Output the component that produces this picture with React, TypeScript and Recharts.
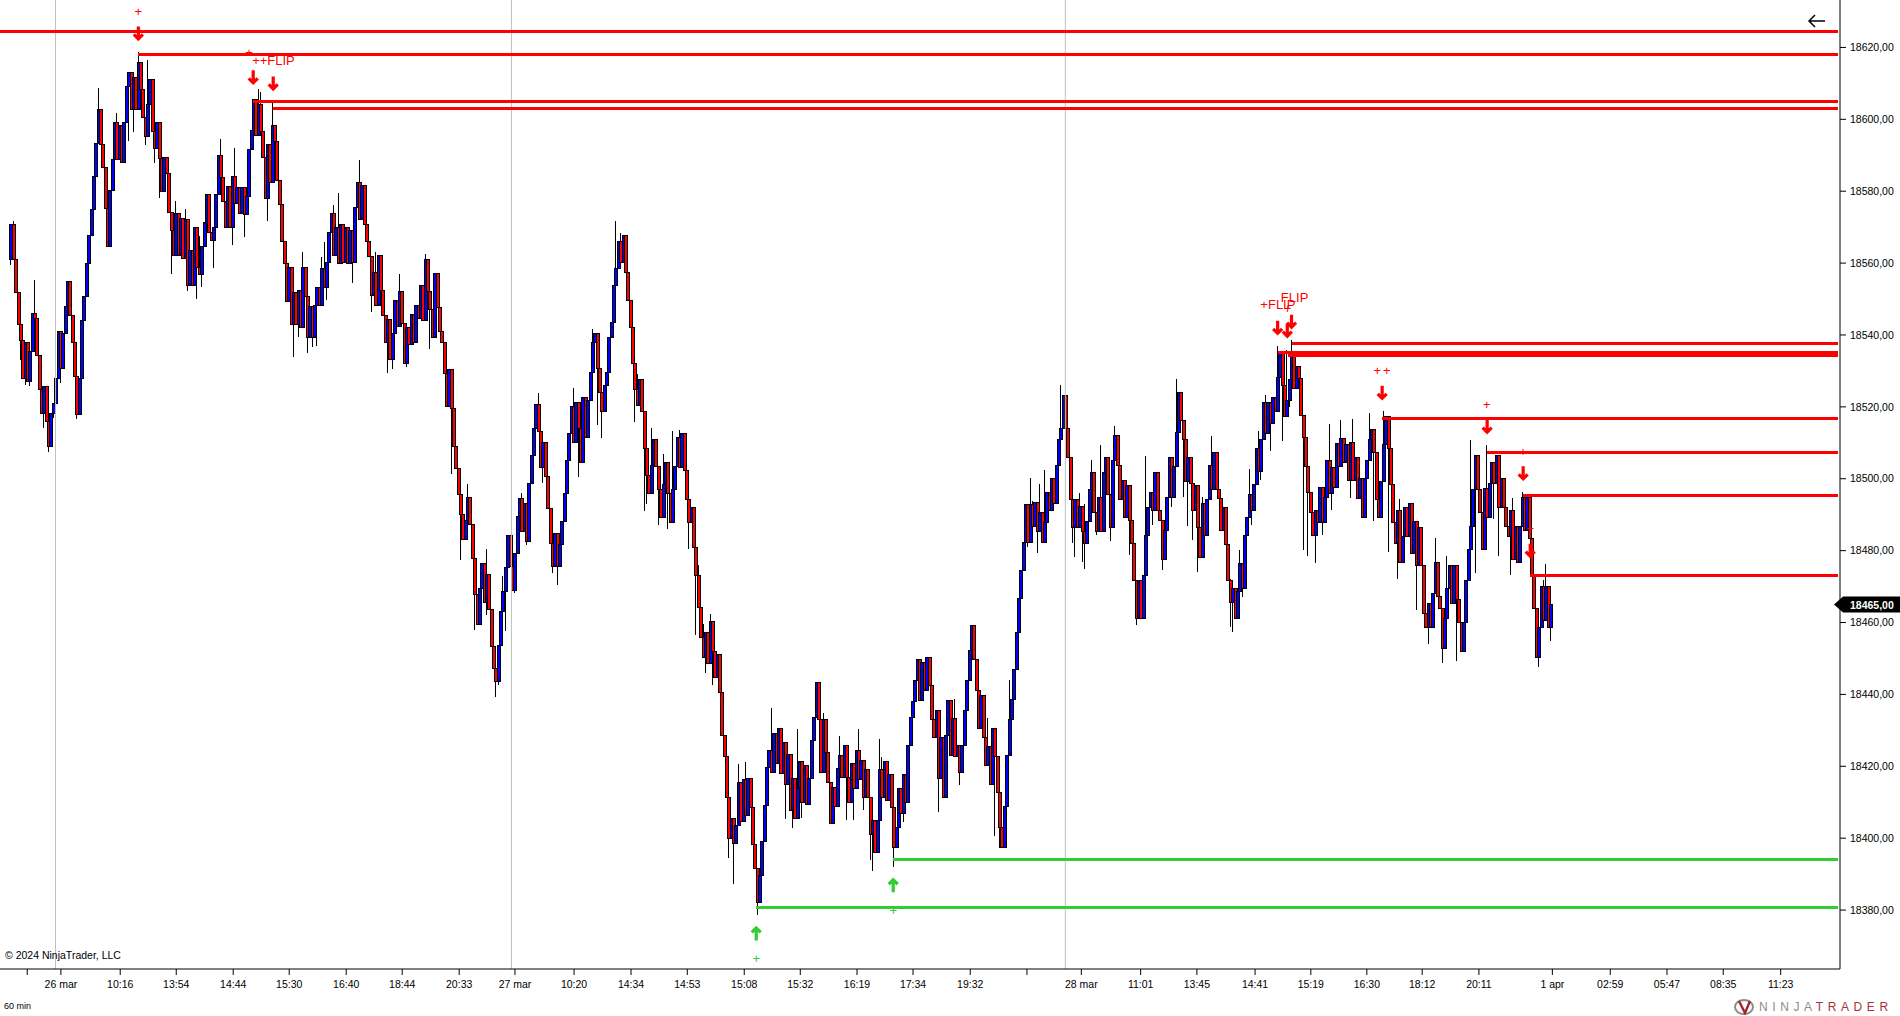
import React from "react";
import {
  Bar,
  ComposedChart,
  ReferenceDot,
  ReferenceLine,
  Scatter,
  XAxis,
  YAxis,
} from "recharts";

const PRICE_BASE = 18000;
const FONT = "'Liberation Sans', Arial, sans-serif";

// closes of every bar, minus PRICE_BASE, ten bars a row. A bar opens where the last one closed.
const closes = [
  570.6, 560.9, 551.7, 542.8, 538.6, 528, 537.8, 527.1, 535.4, 546.1,
  544.6, 534.4, 524.8, 518.2, 525.6, 516, 508.9, 518.2, 520.9, 528,
  540.9, 530.8, 540.4, 547.9, 555, 545.3, 538, 528.4, 517.8, 528,
  544, 550.6, 560, 567.8, 574.8, 584, 593.4, 602.6, 592.9, 586.5,
  575.3, 564.5, 580.3, 588.7, 599, 588.7, 598.4, 588.1, 599, 609,
  612.9, 602.6, 611.5, 602.6, 615.7, 608.2, 600.4, 595.1, 604, 611.2,
  596.5, 592, 599, 589.2, 579.8, 589.5, 585, 574.2, 569.2, 562,
  573.9, 562.2, 572.5, 561.4, 572, 553.9, 563.6, 553.9, 569.8, 558.9,
  556.7, 564.5, 571.2, 579.2, 568.6, 566.4, 569.8, 579, 590, 583.7,
  577, 569.8, 581.2, 570, 584, 576.7, 580.9, 573.9, 580.9, 573.4,
  578.4, 591.5, 597, 605.4, 595.6, 604, 596.5, 589.5, 578.1, 592.9,
  582.3, 598.4, 593.7, 583.1, 576.2, 566.1, 560, 549.2, 558.9, 542.8,
  551.7, 542.8, 552.5, 542.2, 558.9, 550.6, 539.4, 547.8, 539.4, 548.3,
  553.3, 548.3, 558.6, 553.3, 560.3, 568.4, 573.9, 562.2, 570, 560,
  570.6, 560.3, 569.8, 560, 569.2, 560.3, 575.6, 582.3, 572, 581.7,
  570.6, 565.9, 561.7, 551.1, 557.5, 548.3, 562.2, 552.5, 545.3, 538,
  544.3, 533.1, 540.4, 549.7, 542.4, 552, 543.3, 532.1, 542.2, 537.3,
  545.6, 537.8, 548.3, 544.6, 553.9, 544, 560.9, 552, 547.1, 539.3,
  557.2, 547.6, 540.9, 538, 529.4, 520.1, 530.3, 519.6, 508.9, 502.9,
  495.6, 490, 483, 488.5, 494.9, 487.2, 477.8, 467.7, 459.4, 469.4,
  476.5, 465.7, 473.3, 463.5, 453.4, 447.1, 443.5, 453.6, 463, 468.7,
  475.2, 484.3, 475.5, 469, 479.3, 489.5, 494.6, 485.3, 493, 482.5,
  498.8, 506.6, 514.1, 520.7, 513.1, 503.2, 510.2, 500.6, 491.8, 481.9,
  475.5, 484.8, 475.5, 481.7, 488.2, 496, 505.2, 512.7, 520, 510,
  521.1, 514.1, 504.4, 522.7, 511.6, 521.9, 529.7, 537.8, 540.5, 530.8,
  523.9, 518.6, 526, 529.7, 539.4, 543.6, 553.9, 558.6, 565.9, 560.3,
  567.8, 557.5, 549.7, 542.2, 532.2, 524.7, 520.5, 527.5, 518.6, 508.5,
  501, 496, 503.8, 510.8, 503.3, 496.9, 489.3, 498.3, 504.4, 496,
  487.7, 496.9, 503.3, 511.6, 503, 512.7, 502.4, 494.1, 487.7, 491.9,
  481, 473.2, 464.3, 455.7, 450.4, 457.1, 448.7, 460.4, 451.8, 444.8,
  451, 440.4, 428.7, 422.6, 411.4, 400, 405.6, 398.6, 403.4, 415.6,
  404.5, 416.2, 406.4, 416.7, 408.4, 398.1, 391.7, 382, 389.7, 399.2,
  409.2, 419.8, 424.5, 418.4, 429.2, 420.9, 430.6, 418.1, 426.5, 414.8,
  423.4, 407.8, 416.7, 405.6, 413.9, 421.2, 409.8, 420.3, 409.5, 416.7,
  427.3, 433.7, 443.2, 432.9, 418.4, 432.9, 423.7, 415.6, 404.2, 414.2,
  408.7, 419.5, 423.1, 417, 425.9, 417, 410, 420.9, 413.9, 424.5,
  416.2, 421.7, 411.4, 419, 411.2, 400.9, 405, 396.1, 405, 419,
  411.4, 421.2, 410.6, 417.6, 408.4, 397.5, 403.1, 413.9, 407, 417.6,
  410, 425.9, 433.7, 437.9, 444, 449.6, 438.4, 449, 441.2, 450.4,
  442.6, 432.9, 428.1, 435.6, 416.7, 427.9, 411.4, 428.7, 438.4, 423.1,
  433.4, 422.6, 425.9, 418.4, 425.9, 435.6, 444, 452.3, 459.3, 449.6,
  441.2, 430.6, 439.8, 428.1, 420.3, 425.4, 414.8, 430.6, 422.6, 412.6,
  403.1, 397.5, 408.7, 423.1, 432.9, 438.7, 447, 457.1, 466.8, 474.6,
  482.4, 492.7, 482.4, 492.7, 486.6, 493.5, 485.2, 490.5, 482.4, 487.7,
  496.3, 491.3, 500.2, 493.2, 503.8, 511, 514.1, 523.3, 514.1, 505.8,
  494.1, 486.3, 494.1, 486.3, 492.4, 485.2, 482.1, 488, 496.9, 501.6,
  490.5, 485.2, 494.9, 485.2, 501.6, 506, 495.5, 486.3, 505.2, 511.9,
  503.8, 494.1, 499.6, 489.3, 498, 488.5, 482.1, 471.8, 461.2, 471.8,
  461.2, 473.2, 484.1, 491.9, 496.3, 491.3, 501.6, 491.3, 488.5, 477.4,
  485.7, 494.9, 505.8, 494.9, 503.3, 513, 523.9, 516.3, 510.8, 499.1,
  506, 498.8, 491.3, 498, 486.3, 478.2, 493.2, 484.3, 494.1, 503.8,
  496.9, 507.2, 496.9, 494.6, 485.7, 492.1, 481.6, 471.8, 465.7, 469.6,
  461.2, 468.5, 476.3, 469.6, 484.3, 489.1, 495.7, 491.3, 498.3, 508.3,
  501.9, 510.8, 521.3, 512.7, 521.3, 515.5, 522.5, 518.6, 528.3, 535,
  526, 517.2, 521.9, 527.5, 534.4, 525.2, 531.1, 528, 517.7, 511.6,
  503.3, 496.3, 490.7, 484.3, 491.3, 487.7, 497.7, 487.7, 494.9, 505.2,
  496, 503, 497.7, 509.9, 503.3, 511.3, 504.4, 509.4, 499.6, 510.2,
  499.6, 505.8, 494.6, 500.2, 489.1, 500.2, 505.2, 511, 513.6, 507.4,
  494.1, 489.3, 499.1, 509.4, 517.2, 508.5, 498.3, 487.7, 482.1, 491.3,
  476.6, 483.8, 492.1, 483.8, 493.2, 479.3, 488, 476, 486.3, 476,
  462.6, 458.5, 465.4, 458.7, 468.2, 476.6, 467.1, 464, 452.9, 461.2,
  469.6, 476, 465.4, 476, 466.3, 460.1, 451.8, 460.1, 471.8, 480.2,
  486.6, 496.9, 506.6, 496.9, 490.7, 480.2, 497.4, 489.3, 498.8, 504.4,
  498.8, 506.6, 491.9, 500.2, 491.9, 486.6, 483.8, 491.3, 477.4, 486.6,
  476.8, 486.6, 494.9, 485.7, 494.9, 483.5, 472.7, 464, 450.4, 458.7,
  469.9, 460.7, 469.9, 458.7, 465,
];

// [bar, price minus PRICE_BASE] for the wicks that stick out of a body
const upperWicks = [
  [1, 571.7], [4, 549.4], [10, 555.3], [37, 608.7], [45, 601.8], [54, 618.7], [58, 616.5], [64, 595.9],
  [70, 577.3], [74, 575], [80, 567.5], [82, 570.9], [89, 594.5], [95, 592], [105, 608.4], [106, 607.6],
  [111, 604.5], [117, 562], [124, 563.1], [132, 561.7], [133, 565.9], [137, 576.2], [139, 579.5], [148, 588.7],
  [149, 581.4], [151, 572.8], [155, 563.1], [165, 557], [176, 562.5], [182, 549.2], [188, 513.6], [194, 498.6],
  [202, 480.4], [209, 473], [217, 495.9], [224, 523.8], [239, 525.2], [247, 541.7], [257, 571.7], [259, 568.4],
  [266, 529.1], [270, 506.6], [272, 514.1], [277, 506.9], [281, 513.3], [284, 513.6], [292, 476], [294, 459.6],
  [297, 462.4], [299, 457.9], [309, 420.6], [312, 421.2], [323, 436.2], [334, 430.4], [345, 434.8], [352, 428.4],
  [360, 430.4], [369, 427.6], [370, 422.6], [373, 419], [401, 438.7], [415, 433.4], [419, 416.7], [424, 444],
  [433, 500.2], [434, 493.8], [437, 498.5], [439, 502.4], [446, 526], [451, 500.5], [454, 496], [456, 493],
  [459, 505.2], [463, 509.4], [469, 514.7], [482, 506.3], [486, 501.6], [495, 527.7], [498, 510], [503, 497.1],
  [506, 494.9], [510, 511.9], [512, 505.8], [518, 472.1], [522, 480.2], [526, 502.7], [530, 513.3], [533, 523.3],
  [538, 537], [542, 535.8], [544, 538.6], [560, 515.2], [565, 516.3], [570, 516.6], [577, 518.3], [583, 518.8],
  [590, 494.4], [599, 483.5], [605, 483.5], [610, 478.5], [620, 510.8], [627, 509.4], [631, 502.7], [633, 494.1],
  [638, 494.6], [642, 496.3], [651, 471.8], [652, 476.3],
];

const lowerWicks = [
  [0, 559.5], [4, 533.1], [6, 526.1], [8, 525.8], [14, 514.1], [16, 507.5], [18, 517], [21, 526.7],
  [28, 516.6], [50, 594], [52, 596.5], [57, 592.9], [61, 587.8], [63, 578.1], [68, 557], [75, 552.2],
  [79, 550], [81, 553.3], [86, 558.6], [94, 565], [99, 567.3], [109, 571.7], [120, 533.9], [122, 539.4],
  [126, 535.1], [128, 536.7], [130, 537], [134, 549.7], [145, 554.5], [153, 546.3], [160, 529.4], [162, 530.4],
  [168, 531], [178, 536], [187, 501.2], [191, 477.3], [197, 458], [202, 462.2], [206, 439.4], [207, 442.7],
  [210, 457.6], [214, 468.2], [219, 481.7], [226, 498.8], [230, 473.8], [232, 470.4], [241, 500.5], [249, 515],
  [251, 511.3], [265, 515.8], [269, 491], [270, 493], [275, 487.1], [279, 486], [282, 500.2], [288, 480.4],
  [291, 456.5], [295, 446], [298, 442.6], [305, 394.5], [307, 387.3], [317, 378.6], [329, 405.3], [332, 402.8],
  [336, 405.6], [355, 405], [358, 405], [362, 407.8], [365, 393.9], [366, 391], [375, 392], [379, 404.5],
  [394, 407.3], [403, 414.8], [418, 400.6], [420, 397.3], [425, 427.6], [432, 481], [436, 479.3], [440, 489.1],
  [451, 482.1], [452, 478.2], [455, 476.8], [456, 474.9], [461, 484.3], [467, 482.7], [475, 478.8], [478, 459.3],
  [485, 487.1], [489, 474.6], [493, 492.1], [498, 494.9], [500, 486.8], [502, 483], [504, 474], [518, 458.7],
  [519, 457.3], [521, 467.6], [523, 467.1], [527, 487.1], [531, 499.6], [535, 507.7], [540, 510.5], [543, 520],
  [549, 480.2], [551, 478.5], [554, 476.6], [557, 484.3], [561, 491.3], [569, 494.6], [579, 488.2], [585, 479.6],
  [589, 472.1], [597, 463.5], [602, 454], [608, 448.7], [614, 449.3], [622, 473.8], [626, 493.5], [630, 488.8],
  [632, 478.5], [637, 473.2], [649, 447.6], [654, 454.8],
];

const priceTicks = [18380, 18400, 18420, 18440, 18460, 18480, 18500, 18520, 18540, 18560, 18580, 18600, 18620];

const timeTickBars = [
  6.9, 21.2, 46.4, 70.2, 94.4, 118.2, 142.4, 166.2, 190.4, 214.1, 239.2, 263.4, 287.3, 311.5, 335.3, 359.4,
  383.2, 407.5, 431.6, 454.7, 479.9, 503.8, 528.5, 552.2, 576, 599.5, 623.6, 654.8, 679.4, 703.5, 727.4, 751.8,
];
const timeTickLabels = [
  "", "26 mar", "10:16", "13:54", "14:44", "15:30", "16:40", "18:44", "20:33", "27 mar", "10:20", "14:34", "14:53", "15:08", "15:32", "16:19",
  "17:34", "19:32", "", "28 mar", "11:01", "13:45", "14:41", "15:19", "16:30", "18:12", "20:11", "1 apr", "02:59", "05:47", "08:35", "11:23",
];

const sessionBars = [18.9, 212.6, 447.9];

// [first bar, price]
const resistanceLevels = [
  [-4.67, 18624.5], [54, 18618.1], [102.8, 18605], [111.3, 18603.1], [544.2, 18537.7], [538.2, 18535.1],
  [542.5, 18534.4], [582.5, 18516.9], [627.1, 18507.2], [642.4, 18495.4], [645.4, 18473.1],
];
const supportLevels = [[316.6, 18380.75], [374.8, 18394.1]];
const LEVEL_END_BAR = 776.1;

const downArrows = [
  { bar: 54.1, price: 18623.9 }, { bar: 102.9, price: 18611.7 }, { bar: 111.4, price: 18610 },
  { bar: 538.1, price: 18542 }, { bar: 544, price: 18543.7 }, { bar: 542.2, price: 18541.2 },
  { bar: 582.5, price: 18523.9 }, { bar: 627.1, price: 18514.5 }, { bar: 642.4, price: 18501.5 }, { bar: 645.4, price: 18480 },
];
const upArrows = [{ bar: 316.6, price: 18373.5 }, { bar: 374.8, price: 18386.9 }];

const redNotes = [
  { bar: 54.1, price: 18629.9, text: "+" }, { bar: 101.1, price: 18618.5, text: "+" }, { bar: 111.5, price: 18616.3, text: "++FLIP" },
  { bar: 545.3, price: 18550.5, text: "FLIP" }, { bar: 538.2, price: 18548.6, text: "+FLIP" }, { bar: 542.3, price: 18547.5, text: "+" },
  { bar: 580.4, price: 18530, text: "+" }, { bar: 584.5, price: 18530, text: "+" }, { bar: 627, price: 18520.6, text: "+" },
  { bar: 642.3, price: 18507.5, text: "+" }, { bar: 645.4, price: 18486.1, text: "+" },
];
const greenNotes = [{ bar: 316.6, price: 18366.4, text: "+" }, { bar: 374.8, price: 18379.8, text: "+" }];

const LAST_PRICE = 18465;

const highByBar = new Map(upperWicks.map(([bar, price]) => [bar, price]));
const lowByBar = new Map(lowerWicks.map(([bar, price]) => [bar, price]));

const candles = closes.map((close, bar) => {
  const open = bar === 0 ? 560.9 : closes[bar - 1];
  const high = Math.max(open, close, highByBar.get(bar) ?? 0);
  const low = Math.min(open, close, lowByBar.get(bar) ?? 99999);
  return {
    bar,
    open: PRICE_BASE + open,
    close: PRICE_BASE + close,
    high: PRICE_BASE + high,
    low: PRICE_BASE + low,
  };
});

function Candle(props: any) {
  const { x, y, width, height, payload } = props;
  const { open, close, high, low } = payload;
  const perPoint = height / (high - low);
  const top = y + (high - Math.max(open, close)) * perPoint;
  const bodyHeight = Math.max(Math.abs(open - close) * perPoint, 1);
  const left = Math.round(x + width / 2 - 1.5) + 0.5;
  return (
    <g shapeRendering="crispEdges">
      <line x1={left + 1} x2={left + 1} y1={y} y2={y + height} stroke="#000" />
      <rect
        x={left}
        y={top}
        width={3}
        height={bodyHeight}
        fill={close >= open ? "#0000ff" : "#ff0000"}
        stroke="#000"
      />
    </g>
  );
}

function DownArrow({ cx, cy }: any) {
  return (
    <path
      d={`M${cx} ${cy - 7}V${cy + 5}M${cx - 4.5} ${cy + 1}L${cx} ${cy + 5.5}L${cx + 4.5} ${cy + 1}`}
      fill="none"
      stroke="#ff0000"
      strokeWidth={3.2}
    />
  );
}

function UpArrow({ cx, cy }: any) {
  return (
    <path
      d={`M${cx} ${cy + 7}V${cy - 5}M${cx - 4.5} ${cy - 1}L${cx} ${cy - 5.5}L${cx + 4.5} ${cy - 1}`}
      fill="none"
      stroke="#32cd32"
      strokeWidth={3.2}
    />
  );
}

function Note({ cx, cy, payload, fill }: any) {
  return (
    <text x={cx} y={cy + 4.5} textAnchor="middle" fontSize={13} fontFamily={FONT} fill={fill}>
      {payload.text}
    </text>
  );
}

function PriceTag({ cx, cy }: any) {
  return (
    <g>
      <path d={`M${cx - 6} ${cy}L${cx + 3} ${cy - 8}H1900V${cy + 8}H${cx + 3}Z`} fill="#000" />
      <text x={cx + 10} y={cy + 4} fontSize={10.5} fontFamily={FONT} fill="#fff" fontWeight={600}>
        {"18465,00"}
      </text>
    </g>
  );
}

const formatPrice = (value: number) => value.toFixed(2).replace(".", ",");
const formatTime = (value: number) => timeTickLabels[timeTickBars.indexOf(value)] ?? "";

export default function App() {
  return (
    <div style={{ position: "absolute", left: 0, top: 0, width: 1900, height: 1016, background: "#fff", overflow: "hidden" }}>
      <ComposedChart
        width={1900}
        height={1016}
        data={candles}
        margin={{ top: 0, right: 0, bottom: 0, left: 0 }}
      >
        <XAxis
          dataKey="bar"
          type="number"
          domain={[-4.67, 777]}
          allowDataOverflow
          ticks={timeTickBars}
          interval={0}
          tickFormatter={formatTime}
          height={47}
          stroke="#000"
          tickSize={6}
          tickMargin={6}
          tick={{ fontSize: 10.5, fontFamily: FONT, fill: "#000" }}
        />
        <YAxis
          orientation="right"
          type="number"
          domain={[18363.6, 18633.2]}
          allowDataOverflow
          ticks={priceTicks}
          interval={0}
          tickFormatter={formatPrice}
          width={60}
          stroke="#000"
          tickSize={6}
          tickMargin={4}
          tick={{ fontSize: 10.5, fontFamily: FONT, fill: "#000" }}
        />
        {sessionBars.map((bar) => (
          <ReferenceLine key={bar} x={bar} stroke="#c0c0c0" strokeWidth={1} />
        ))}
        <Bar
          dataKey={(d: any) => [d.low, d.high]}
          barSize={3}
          shape={<Candle />}
          isAnimationActive={false}
        />
        {resistanceLevels.map(([bar, price]) => (
          <ReferenceLine
            key={price}
            segment={[{ x: bar, y: price }, { x: LEVEL_END_BAR, y: price }]}
            stroke="#ff0000"
            strokeWidth={3}
            shapeRendering="crispEdges"
          />
        ))}
        {supportLevels.map(([bar, price]) => (
          <ReferenceLine
            key={price}
            segment={[{ x: bar, y: price }, { x: LEVEL_END_BAR, y: price }]}
            stroke="#32cd32"
            strokeWidth={3}
            shapeRendering="crispEdges"
          />
        ))}
        <Scatter data={downArrows} dataKey="price" shape={<DownArrow />} isAnimationActive={false} />
        <Scatter data={upArrows} dataKey="price" shape={<UpArrow />} isAnimationActive={false} />
        <Scatter data={redNotes} dataKey="price" shape={<Note fill="#ff0000" />} isAnimationActive={false} />
        <Scatter data={greenNotes} dataKey="price" shape={<Note fill="#32cd32" />} isAnimationActive={false} />
        <ReferenceDot x={777} y={LAST_PRICE} ifOverflow="visible" shape={<PriceTag />} />
      </ComposedChart>

      <svg width={20} height={14} style={{ position: "absolute", left: 1807, top: 14 }}>
        <path d="M18 7H2M8 1L2 7L8 13" fill="none" stroke="#000" strokeWidth={1.5} />
      </svg>
      <div style={{ position: "absolute", left: 5, top: 949, fontSize: 10.5, fontFamily: FONT, color: "#000" }}>
        © 2024 NinjaTrader, LLC
      </div>
      <div style={{ position: "absolute", left: 4, top: 1001, fontSize: 9, fontFamily: FONT, color: "#000" }}>
        60 min
      </div>
      <svg width={22} height={16} style={{ position: "absolute", left: 1734, top: 999 }}>
        <ellipse cx={10} cy={8} rx={9} ry={7} fill="none" stroke="#8c8c8c" strokeWidth={2} />
        <path d="M5 2L11 14L16 2" fill="none" stroke="#a8232c" strokeWidth={2.4} />
      </svg>
      <div style={{ position: "absolute", left: 1759, top: 1000, fontSize: 12, fontFamily: FONT, letterSpacing: 4.6, whiteSpace: "nowrap", color: "#8c8c8c" }}>
        NINJA<span style={{ color: "#a8323a" }}>TRADER</span>
      </div>
    </div>
  );
}
